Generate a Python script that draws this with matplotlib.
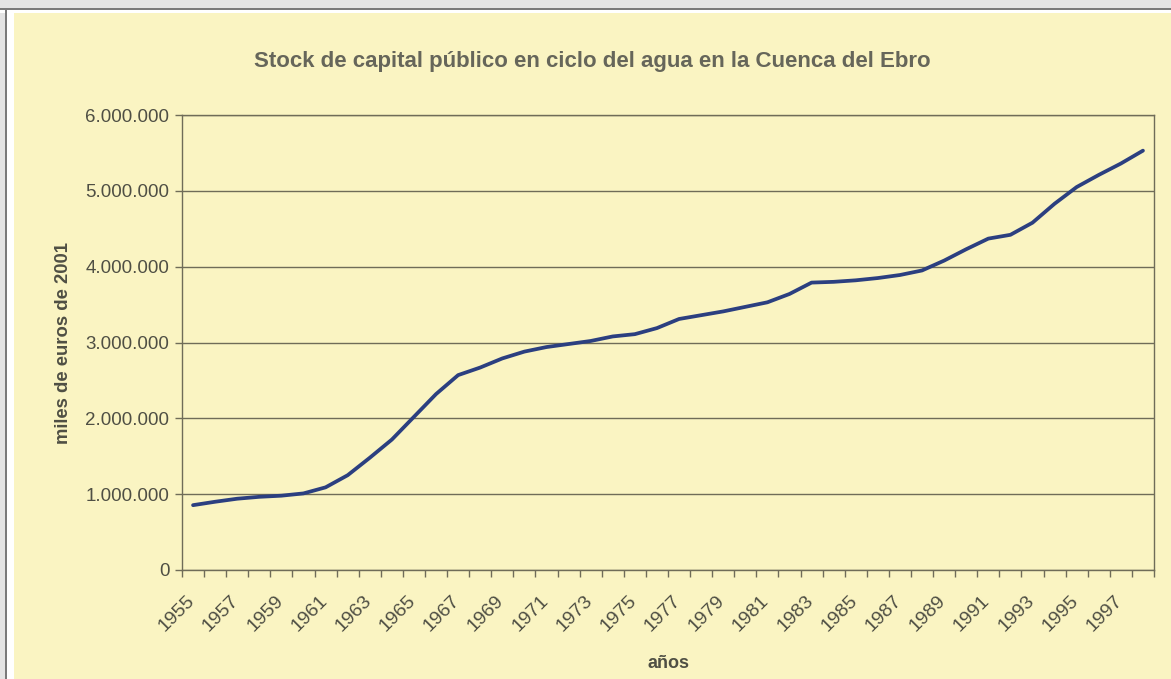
import numpy as np
import matplotlib.pyplot as plt
from matplotlib.patches import Rectangle
from matplotlib.transforms import ScaledTranslation

# ── Data (miles de euros de 2001) ────────────────────────────────────────────
years = list(range(1955, 1999))
stock = [
    855_000, 900_000, 940_000, 965_000, 980_000, 1_010_000, 1_090_000, 1_250_000,
    1_480_000, 1_720_000, 2_020_000, 2_320_000, 2_570_000, 2_670_000, 2_790_000,
    2_880_000, 2_940_000, 2_980_000, 3_020_000, 3_080_000, 3_110_000, 3_190_000,
    3_310_000, 3_360_000, 3_410_000, 3_470_000, 3_530_000, 3_640_000, 3_790_000,
    3_800_000, 3_820_000, 3_850_000, 3_890_000, 3_950_000, 4_080_000, 4_230_000,
    4_370_000, 4_420_000, 4_580_000, 4_830_000, 5_050_000, 5_210_000, 5_360_000,
    5_530_000,
]
y_ticks = [0, 1_000_000, 2_000_000, 3_000_000, 4_000_000, 5_000_000, 6_000_000]

TITLE = "Stock de capital público en ciclo del agua en la Cuenca del Ebro"
BG = "#faf4c2"
TEXT = "#4f4f44"
GRID = "#6f6c58"
LINE = "#2b3f80"

plt.rcParams["font.family"] = ["Liberation Sans", "DejaVu Sans"]

fig = plt.figure(figsize=(11.71, 6.79), dpi=100)
fig.patch.set_facecolor(BG)

# scanned-page frame: grey strip on top and left edge
def frame_rect(x0, y0, w, h, color, z):
    fig.patches.append(Rectangle((x0 / 1171, 1 - (y0 + h) / 679), w / 1171, h / 679,
                                 transform=fig.transFigure, facecolor=color,
                                 edgecolor="none", zorder=z))

frame_rect(0, 0, 1171, 8, "#e4e4e4", 0)
frame_rect(0, 8, 1171, 2, "#7a7a7a", 1)
frame_rect(0, 10, 1171, 3, "white", 1)
frame_rect(0, 0, 5, 679, "#e4e4e4", 0)
frame_rect(5, 8, 2, 671, "#7a7a7a", 1)
frame_rect(7, 10, 7, 669, "white", 1)

ax = fig.add_axes([182 / 1171, 1 - 570 / 679, (1154 - 182) / 1171, (570 - 115) / 679])
ax.set_facecolor(BG)

x = np.arange(len(years))
ax.plot(x, stock, color=LINE, linewidth=2.7, solid_capstyle="round", zorder=3)

ax.set_xlim(-0.5, len(years) - 0.5)
ax.set_ylim(0, 6_000_000)

# y axis
ax.set_yticks(y_ticks)
ax.set_yticklabels([f"{v:,.0f}".replace(",", ".") for v in y_ticks])
ax.yaxis.grid(True, color=GRID, linewidth=1.0)
ax.set_axisbelow(True)
ax.tick_params(axis="y", length=5, width=1, color=GRID, labelsize=13.5,
               labelcolor=TEXT, pad=4)

# x axis: ticks between categories, labels on odd years
ax.set_xticks(np.arange(-0.5, len(years)), labels=[""] * (len(years) + 1))
ax.tick_params(axis="x", which="major", length=5, width=1, color=GRID)
shift = ScaledTranslation(-7 / 100, -22 / 100, fig.dpi_scale_trans)
for xi, yr in zip(x[::2], years[::2]):
    ax.text(xi, 0, str(yr), transform=ax.get_xaxis_transform() + shift,
            rotation=45, rotation_mode="anchor", ha="right", va="top",
            fontsize=14, color=TEXT)

for side in ["left", "bottom", "top", "right"]:
    ax.spines[side].set_color(GRID)
    ax.spines[side].set_linewidth(1.0)

ax.set_ylabel("miles de euros de 2001", fontsize=13.3, fontweight="bold",
              color=TEXT, labelpad=10)
fig.text((182 + 1154) / 2 / 1171, 1 - 663 / 679, "años", ha="center", va="center",
         fontsize=13, fontweight="bold", color=TEXT)
fig.text(592 / 1171, 1 - 61 / 679, TITLE, ha="center", va="center",
         fontsize=16, fontweight="bold", color="#66665a")

fig.savefig("out.png", dpi=100, facecolor=BG)
